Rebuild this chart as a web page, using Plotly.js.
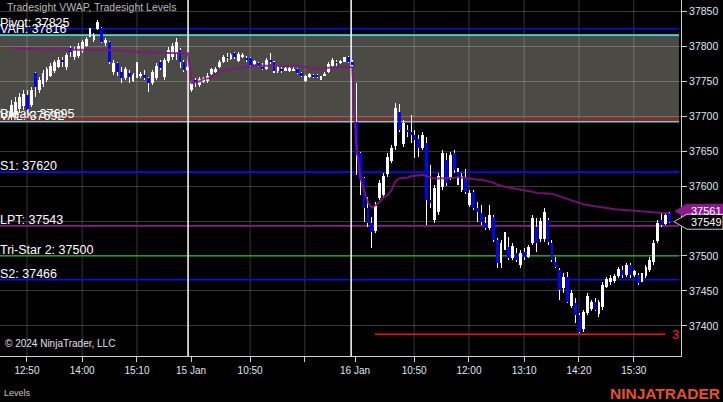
<!DOCTYPE html>
<html><head><meta charset="utf-8">
<script src="https://cdn.plot.ly/plotly-3.0.1.min.js"></script>
<style>html,body{margin:0;padding:0;background:#000;overflow:hidden}#chart{width:723px;height:402px}</style>
</head><body><div id="chart"></div>
<script>
// ---- bar data (5-minute bars, index 0..168) ----
const open = [37700,37703,37710,37715,37730,37716,37762,37737,37746,37752,37758,37765,37771,37781,37770,37797,37784,37786,37793,37801,
37815,37809,37825,37826,37805,37806,37763,37776,37763,37755,37762,37751,37757,37757,37759,37755,37747,37755,37777,37756,
37779,37784,37790,37795,37777,37766,37737,37752,37744,37749,37750,37761,37763,37771,37778,37785,37782,37790,37779,37784,
37783,37783,37775,37776,37770,37768,37780,37777,37764,37767,37765,37765,37765,37767,37762,37751,37756,37759,37759,37753,
37758,37763,37772,37777,37776,37778,37784,37778,37692,37647,37611,37569,37547,37536,37583,37587,37617,37636,37657,37706,
37660,37680,37677,37673,37668,37655,37662,37580,37551,37563,37598,37637,37612,37647,37620,37595,37613,37573,37591,37568,
37561,37547,37540,37556,37523,37490,37512,37513,37497,37504,37487,37505,37499,37519,37541,37524,37524,37551,37518,37491,
37480,37454,37470,37429,37433,37416,37395,37419,37424,37434,37417,37427,37456,37463,37464,37471,37480,37473,37487,37473,
37473,37465,37471,37480,37491,37521,37551,37546,37561];
const high = [37723,37727,37733,37737,37737,37742,37763,37756,37766,37770,37776,37780,37785,37785,37790,37800,37799,37805,37809,37813,
37826,37819,37838,37828,37812,37808,37780,37778,37770,37770,37766,37762,37777,37763,37766,37756,37766,37776,37780,37783,
37799,37805,37812,37797,37780,37772,37752,37754,37756,37756,37762,37769,37770,37780,37787,37790,37790,37792,37792,37790,
37786,37785,37780,37778,37776,37783,37790,37779,37773,37770,37770,37770,37770,37769,37763,37759,37762,37761,37761,37757,
37763,37777,37783,37780,37781,37785,37786,37780,37747,37649,37613,37584,37556,37577,37609,37619,37647,37659,37719,37717,
37695,37687,37702,37680,37673,37677,37670,37630,37602,37619,37652,37647,37649,37652,37626,37619,37624,37594,37594,37577,
37573,37556,37573,37559,37526,37523,37534,37527,37518,37511,37508,37511,37516,37559,37554,37554,37568,37554,37523,37498,
37483,37476,37477,37451,37440,37418,37423,37447,37437,37440,37437,37463,37470,37473,37474,37484,37486,37490,37490,37480,
37476,37476,37487,37498,37523,37551,37561,37561,37563];
const low = [37695,37699,37704,37709,37705,37713,37727,37733,37742,37749,37756,37762,37769,37770,37766,37785,37780,37783,37790,37799,
37813,37806,37823,37805,37800,37775,37759,37757,37748,37752,37748,37749,37755,37754,37752,37735,37745,37752,37766,37752,
37776,37780,37780,37769,37763,37764,37735,37742,37742,37747,37747,37759,37762,37769,37776,37778,37780,37782,37777,37783,
37778,37771,37773,37770,37766,37766,37775,37762,37762,37762,37764,37763,37764,37760,37756,37749,37755,37754,37754,37752,
37757,37762,37770,37772,37774,37777,37776,37771,37616,37587,37548,37541,37511,37533,37580,37583,37613,37633,37652,37678,
37656,37670,37662,37640,37641,37652,37544,37569,37547,37559,37594,37600,37609,37618,37601,37591,37589,37570,37566,37549,
37544,37537,37537,37520,37483,37483,37508,37494,37494,37492,37483,37494,37497,37516,37506,37520,37520,37516,37492,37483,
37437,37447,37433,37426,37404,37390,37391,37416,37421,37421,37413,37423,37454,37459,37461,37469,37469,37470,37469,37470,
37459,37463,37469,37477,37487,37518,37541,37544,37547];
const close = [37716,37720,37728,37732,37709,37738,37742,37752,37762,37767,37772,37777,37781,37778,37787,37792,37796,37800,37806,37811,
37823,37816,37835,37806,37809,37777,37776,37763,37754,37767,37756,37759,37774,37761,37755,37748,37763,37772,37769,37780,
37795,37801,37806,37777,37766,37770,37748,37749,37753,37754,37758,37767,37768,37778,37785,37783,37788,37785,37789,37788,
37780,37773,37779,37772,37767,37780,37777,37764,37771,37764,37769,37769,37768,37762,37758,37757,37760,37756,37756,37756,
37761,37775,37781,37776,37779,37784,37778,37773,37644,37609,37569,37547,37534,37572,37605,37615,37642,37655,37712,37680,
37690,37677,37673,37666,37654,37673,37580,37576,37597,37614,37647,37604,37644,37623,37613,37615,37591,37590,37568,37563,
37549,37540,37559,37523,37490,37518,37530,37497,37514,37494,37504,37498,37513,37555,37518,37550,37563,37520,37494,37484,
37451,37470,37434,37447,37416,37391,37420,37443,37434,37423,37434,37459,37467,37468,37471,37481,37473,37487,37473,37478,
37461,37473,37484,37494,37518,37547,37544,37558,37549];
const vwap = [37798,37797.5,37797,37797,37796.5,37796,37796,37795.5,37795.5,37795.5,
37795,37795,37795,37795,37795,37795,37795,37795,37795,37794.5,
37794.5,37794.5,37794.5,37794.5,37794.5,37794.5,37794.5,37794,37793.5,37793,
37792.5,37792,37792,37792,37791.5,37791.5,37791,37791,37791,37790.5,
37790.5,37790.5,37790,37790,37790,37790,
37747,37748,37750,37753,37754,37755,37760,37763,37765,37766,
37767,37768,37769,37770,37771,37771,37772,37772,37772,37772,
37773,37773,37773,37773,37772,37772,37772,37772,37771,37770,
37769,37768,37768,37768,37769,37770,37770,37770,37770,37770,
37770,37770,
37660,37613,37594,37576,37569,37573,37577,37584,37587,37594,
37607,37611,37611,37612,37614,37615,37616,37616,37614,37612,
37611,37611,37611,37612,37612,37612,37613,37612,37611,37610,
37610,37609,37609,37608,37607,37605,37602,37600,37599,37598,
37597,37597,37596,37595,37593,37592,37590,37590,37590,37590,
37589,37587,37585,37583,37582,37580,37578,37576,37574,37573,
37572,37571,37570,37569,37568.5,37568,37567,37566.5,37566,37565,
37565,37564,37564,37563,37563,37562,37562,37561.5,37561,37561,
37561];

// ---- axis ticks ----
const xTickVals = [3.9,18.0,32.0,45.8,60.9,74.9,87.7,102.8,116.8,130.9,144.9,158.9];
const xTickText = ['12:50','14:00','15:10','15 Jan','10:50','','16 Jan','10:50','12:00','13:10','14:20','15:30'];
const sessionBreaks = [45.05, 86.7];
const priceTicks = [37400,37450,37500,37550,37600,37650,37700,37750,37800,37850];

// ---- Tradesight levels ----
const levelNames  = ['Pivot','VAH','Break','VAL','S1','LPT','Tri-Star 2','S2'];
const levelValues = [37825,37816,37695,37692,37620,37543,37500,37466];
const levelColors = ['#0a0aff','#3fe0e6','#e00000','#3fe0e6','#0a0aff','#8c1a8c','#0a8a0a','#0a0aff'];
const valueAreaHigh = 37816, valueAreaLow = 37692;
const swingLow = 37388, swingText = '3', swingFrom = 92.8, swingTo = 166.9;

const idx = close.map((_, i) => i);
const FONT = 'Liberation Sans, Arial, sans-serif';

const wicks = {type:'bar', x:idx, base:low, y:high.map((h,i)=>h-low[i]), width:0.27,
  marker:{color:'#ffffff', line:{width:0}}, hoverinfo:'skip', showlegend:false};
const bodies = {type:'bar', x:idx, base:open.map((o,i)=>Math.min(o,close[i])),
  y:open.map((o,i)=>Math.max(Math.abs(close[i]-o),1)), width:0.72,
  marker:{color:close.map((c,i)=>c>=open[i]?'#ffffff':'#0000ff'), line:{width:0}}, showlegend:false};
const vwapLine = {type:'scatter', mode:'lines', x:idx, y:vwap,
  line:{color:'rgba(132,20,132,0.85)', width:2}, showlegend:false, hoverinfo:'skip'};

const shapes = [];
shapes.push({type:'rect', xref:'paper', yref:'y', x0:0, x1:0.997, y0:valueAreaLow, y1:valueAreaHigh,
  fillcolor:'#4b4a44', line:{width:0}, layer:'below'});
const gridX = xTickVals.filter((v,i)=>!/Jan/.test(xTickText[i]));
gridX.forEach(v=>shapes.push({type:'line', xref:'x', yref:'paper', x0:v, x1:v, y0:0, y1:1,
  line:{color:'rgba(255,255,255,0.22)', width:1}, layer:'below'}));
levelValues.forEach((v,i)=>shapes.push({type:'line', xref:'paper', yref:'y', x0:0, x1:0.997, y0:v, y1:v,
  line:{color:levelColors[i], width:1.6}, layer:'between'}));
sessionBreaks.forEach(v=>shapes.push({type:'line', xref:'x', yref:'paper', x0:v, x1:v, y0:0, y1:1,
  line:{color:'#ffffff', width:1.5}, layer:'between'}));
shapes.push({type:'line', xref:'x', yref:'y', x0:swingFrom, x1:swingTo, y0:swingLow, y1:swingLow,
  line:{color:'#ff1010', width:1.5}});

// price flags on the right axis
const pxX = 1/681, pxY = 1/0.699;
function flag(val, fill, border, tipPx, leftPx, hPx){
  const h = hPx/2*pxY, t = 1 - tipPx*pxX, l = 1 + leftPx*pxX, r = 1 + 42*pxX;
  return {type:'path', xref:'paper', yref:'y',
    path:`M ${t},${val} L ${l},${val+h} L ${r},${val+h} L ${r},${val-h} L ${l},${val-h} Z`,
    fillcolor:fill, line:{color:border, width:1}, layer:'above'};
}
const lastVwap = vwap[vwap.length-1], lastClose = close[close.length-1];
shapes.push(flag(lastVwap+3, '#8c1a8c', '#8c1a8c', 6, 6, 14));
shapes.push(flag(lastClose, '#000000', '#c8c8c8', 7, 6, 15));

const annotations = [];
levelNames.forEach((n,i)=>annotations.push({xref:'paper', yref:'y', x:0, y:levelValues[i], xanchor:'left', yanchor:'bottom',
  xshift:-2, yshift:-3, text:`${n}: ${levelValues[i]}`, showarrow:false, font:{family:FONT, size:12.5, color:'#ffffff'}}));
annotations.push({xref:'paper', yref:'paper', x:0, y:1, xanchor:'left', yanchor:'top', xshift:5, yshift:1,
  text:'Tradesight VWAP, Tradesight Levels', showarrow:false, font:{family:FONT, size:10.5, color:'#b8b8b8'}});
annotations.push({xref:'paper', yref:'paper', x:0, y:0, xanchor:'left', yanchor:'bottom', xshift:3, yshift:5,
  text:'© 2024 NinjaTrader, LLC', showarrow:false, font:{family:FONT, size:10, color:'#e0e0e0'}});
annotations.push({xref:'paper', yref:'paper', x:0, y:-0.104, xanchor:'left', yanchor:'middle', xshift:2,
  text:'Levels', showarrow:false, font:{family:FONT, size:9, color:'#c8c8c8'}});
annotations.push({xref:'paper', yref:'paper', x:1.0617, y:-0.104, xanchor:'right', yanchor:'middle', xshift:-1,
  text:'<b>NINJATRADER</b>', showarrow:false, font:{family:FONT, size:15.5, color:'#e8502c'}});
annotations.push({xref:'x', yref:'y', x:swingTo, y:swingLow, xanchor:'left', yanchor:'middle', xshift:5,
  text:swingText, showarrow:false, font:{family:FONT, size:13, color:'#ff2020'}});
annotations.push({xref:'paper', yref:'y', x:1, y:lastVwap+3, xanchor:'left', yanchor:'middle', xshift:8,
  text:String(Math.round(lastVwap)), showarrow:false, font:{family:FONT, size:11, color:'#ffffff'}});
annotations.push({xref:'paper', yref:'y', x:1, y:lastClose, xanchor:'left', yanchor:'middle', xshift:8,
  text:String(lastClose), showarrow:false, font:{family:FONT, size:11, color:'#ffffff'}});

const layout = {
  width:723, height:402, margin:{l:0, r:42, t:0, b:46, pad:0},
  paper_bgcolor:'#000000', plot_bgcolor:'#000000', barmode:'overlay', bargap:0,
  showlegend:false, font:{family:FONT, color:'#dfe8f2'},
  xaxis:{range:[-2.99,170.96], tickmode:'array', tickvals:xTickVals, ticktext:xTickText,
    showgrid:false, zeroline:false, showline:true, linecolor:'#d0d0d0', linewidth:1,
    ticks:'outside', ticklen:5, tickcolor:'#d0d0d0', tickfont:{family:FONT, size:10, color:'#dfe8f2'}, fixedrange:true},
  yaxis:{range:[37356.9,37866.2], side:'right', tickmode:'array', tickvals:priceTicks, tickformat:'.0f',
    showgrid:true, gridcolor:'rgba(255,255,255,0.22)', gridwidth:1, zeroline:false,
    showline:true, linecolor:'#d0d0d0', linewidth:1, ticks:'outside', ticklen:5, tickcolor:'#d0d0d0',
    tickfont:{family:FONT, size:10.5, color:'#dfe8f2'}, fixedrange:true},
  shapes:shapes, annotations:annotations
};
Plotly.newPlot('chart', [wicks, bodies, vwapLine], layout, {staticPlot:true, displayModeBar:false});
</script></body></html>
